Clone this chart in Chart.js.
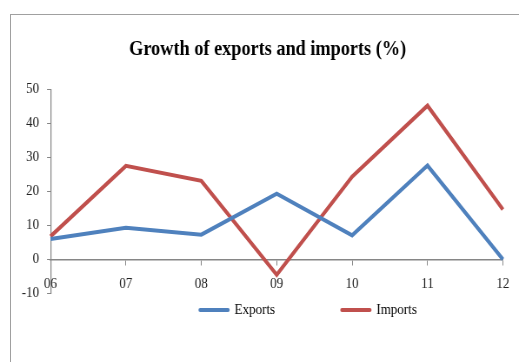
<!DOCTYPE html>
<html>
<head>
<meta charset="utf-8">
<script src="https://cdn.jsdelivr.net/npm/chart.js@4/dist/chart.umd.min.js"></script>
<style>
    html, body { margin: 0; padding: 0; background: #fff; overflow: hidden; }
    #marco {
        position: absolute; left: 10px; top: 14px;
        width: 560px; height: 400px;
        border: 1px solid #a0a0a0;
    }
    /* el lienzo se dibuja más ancho y se estrecha en horizontal */
    #grafica {
        position: absolute; left: 0; top: 0;
        transform: scaleX(0.8693); transform-origin: 0 0;
    }
</style>
</head>
<body>
<div id="marco"></div>
<canvas id="grafica" width="597" height="362"></canvas>
<script>
// Datos
const anios = ["06", "07", "08", "09", "10", "11", "12"];
const exportaciones = [6.0, 9.3, 7.3, 19.3, 7.1, 27.6, 0];
const importaciones = [6.8, 27.5, 23.1, -4.5, 24.3, 45.2, 14.7];
const ticksY = [-10, 0, 10, 20, 30, 40, 50];

const fuente = "'Liberation Serif', 'Times New Roman', serif";
const gris = "#868686";

// Desplaza título y leyenda después del layout
// (la leyenda recorta a su propia caja: solo se sube el borde superior)
const ajustarCajas = {
    id: "ajustarCajas",
    afterLayout(chart) {
        const t = chart.titleBlock;
        t.left += 13; t.right += 13;
        const lg = chart.legend;
        lg.left += 60; lg.right += 60;
        lg.top -= 68;
    }
};

const ctx = document.getElementById("grafica").getContext("2d");

let grafica = new Chart(ctx, {
    type: "line",
    data: {
        labels: anios,
        datasets: [{
            label: "Exports",
            data: exportaciones,
            borderColor: "#4F81BD",
            backgroundColor: "#4F81BD",
            borderWidth: 4,
            pointRadius: 0,
            tension: 0
        }, {
            label: "Imports",
            data: importaciones,
            borderColor: "#C0504D",
            backgroundColor: "#C0504D",
            borderWidth: 4,
            pointRadius: 0,
            tension: 0
        }]
    },
    options: {
        responsive: false,
        animation: false,
        layout: { padding: { left: 10, right: 17.2, top: 0, bottom: 35.5 } },
        plugins: {
            title: {
                display: true,
                text: "Growth of exports and imports (%)",
                color: "#000",
                font: { family: fuente, size: 21, weight: "bold" },
                padding: { top: 37, bottom: 27.1 }
            },
            legend: {
                position: "bottom",
                maxHeight: 33,
                labels: {
                    color: "#000",
                    font: { family: fuente, size: 15 },
                    usePointStyle: true,
                    pointStyle: "line",
                    pointStyleWidth: 32,
                    padding: 77,
                    generateLabels(chart) {
                        const items = Chart.defaults.plugins.legend.labels.generateLabels(chart);
                        items.forEach(it => { it.lineCap = "round"; });
                        return items;
                    }
                }
            },
            tooltip: { enabled: false }
        },
        scales: {
            x: {
                position: { y: 0 },
                grid: { display: true, drawOnChartArea: false, tickLength: 5, tickColor: gris },
                border: { display: true, color: gris, width: 1.5 },
                ticks: {
                    color: "#222",
                    font: { family: fuente, size: 15 },
                    maxRotation: 0, minRotation: 0, autoSkip: false,
                    padding: 11
                }
            },
            y: {
                min: -10,
                max: 50,
                afterBuildTicks(scale) {
                    scale.ticks = ticksY.map(v => ({ value: v }));
                },
                afterFit(scale) { scale.width = 48.1; },
                grid: { display: true, drawOnChartArea: false, tickLength: 4, tickColor: gris },
                border: { display: true, color: gris, width: 1.2 },
                ticks: {
                    color: "#222",
                    font: { family: fuente, size: 15 },
                    padding: 9
                }
            }
        }
    },
    plugins: [ajustarCajas]
});
</script>
</body>
</html>
